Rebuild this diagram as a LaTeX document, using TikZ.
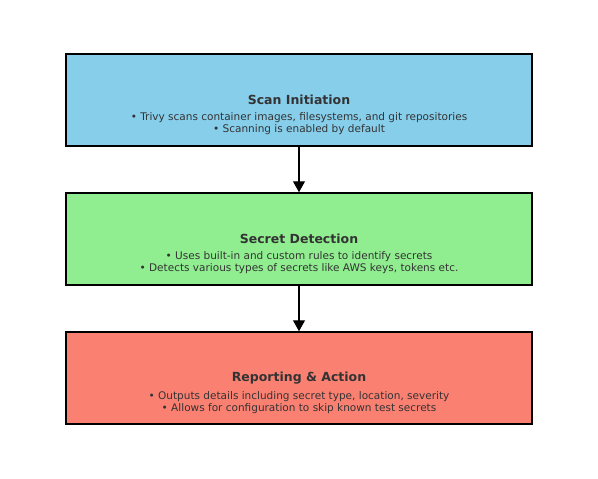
\documentclass[tikz,border=0pt]{standalone}
\usepackage{fontspec}
\setmainfont{DejaVu Sans}
\usetikzlibrary{arrows.meta, positioning}
\definecolor{skyblue}{HTML}{87CEEB}
\definecolor{lightgreen}{HTML}{90EE90}
\definecolor{salmon}{HTML}{FA8072}
\definecolor{inkgray}{HTML}{333333}

\begin{document}
\begin{tikzpicture}[
  x=1pt, y=1pt,
  stage/.style={rectangle, draw=black, line width=1.5pt, minimum width=466pt, minimum height=92pt},
  heading/.style={font=\fontsize{12.5}{15}\selectfont\bfseries, text=inkgray, inner sep=0pt},
  bullets/.style={font=\fontsize{10.5}{12.5}\selectfont, text=inkgray, align=center, inner sep=0pt},
  flow/.style={-{Triangle[width=12pt,length=11pt]}, line width=1.2pt}]

  \useasboundingbox (0,0) rectangle (598,-479);

  \node[stage, fill=skyblue] (scan) at (299,-100) {};
  \node[stage, fill=lightgreen] (detect) at (299,-239) {};
  \node[stage, fill=salmon] (report) at (299,-378) {};

  \node[heading] (scanhead) at (scan.center) {Scan Initiation};
  \node[bullets, below=7pt of scanhead] (scantext) {• Trivy scans container images, filesystems, and git repositories\\• Scanning is enabled by default};

  \node[heading] (detecthead) at (detect.center) {Secret Detection};
  \node[bullets, below=7pt of detecthead] (detecttext) {• Uses built-in and custom rules to identify secrets\\• Detects various types of secrets like AWS keys, tokens etc.};

  \node[heading] (reporthead) at (report.center) {Reporting \& Action};
  \node[bullets, below=7pt of reporthead] (reporttext) {• Outputs details including secret type, location, severity\\• Allows for configuration to skip known test secrets};

  \draw[flow] (scan) -- (detect);
  \draw[flow] (detect) -- (report);
\end{tikzpicture}
\end{document}
